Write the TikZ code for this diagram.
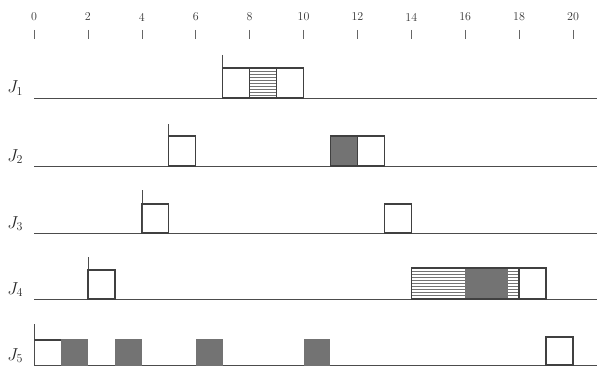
\documentclass[tikz,border=0pt]{standalone}
\begin{document}
\begin{tikzpicture}[x=26.95pt,y=-1pt,line join=miter]
\tikzset{
 jobbox/.style={draw=black!75,line width=1.3pt},
 busy/.style={fill=black!55},
 baseln/.style={draw=black!70,line width=0.8pt},
 release/.style={draw=black!70,line width=0.6pt},
 tickmark/.style={draw=black!60,line width=0.6pt},
 ticklabel/.style={font=\fontsize{12}{13}\selectfont,text=black!80,inner sep=0pt},
 joblabel/.style={font=\fontsize{17}{19}\selectfont,text=black!85,inner sep=0pt,anchor=base west},
 hatchln/.style={draw=black!55,line width=0.5pt},
}
\newcommand\hatchfill[4]{\foreach \k in {1,...,20}{\pgfmathsetmacro\yy{#3+3*\k}\ifdim\yy pt<#4pt\draw[hatchln] (#1,\yy) -- (#2,\yy);\fi}}
\useasboundingbox (-1.2616,0) rectangle (20.89,366);
% axis
\foreach \t in {0,2,...,20}{
 \node[ticklabel] (tl\t) at (\t,17) {\t};
 \draw[tickmark] (\t,30) -- (\t,39);
}
% J1
\node[joblabel] (j1) at (-1.0,93) {$J_1$};
\draw[baseln] (0,98) -- (20.89,98);
\draw[release] (7,55) -- (7,98);
\hatchfill{8}{9}{68}{98}
\draw[jobbox] (7,68) rectangle (10,98);
\draw[jobbox] (8,68) -- (8,98) (9,68) -- (9,98);
% J2
\node[joblabel] (j2) at (-1.0,161) {$J_2$};
\draw[baseln] (0,166) -- (20.89,166);
\draw[release] (5,124) -- (5,166);
\draw[jobbox] (5,136) rectangle (6,166);
\draw[jobbox,busy] (11,136) rectangle (12,166);
\draw[jobbox] (12,136) rectangle (13,166);
% J3
\node[joblabel] (j3) at (-1.0,228) {$J_3$};
\draw[baseln] (0,233) -- (20.89,233);
\draw[release] (4,190) -- (4,233);
\draw[jobbox] (4,204) rectangle (5,233);
\draw[jobbox] (13,204) rectangle (14,233);
% J4
\node[joblabel] (j4) at (-1.0,294) {$J_4$};
\draw[baseln] (0,299) -- (20.89,299);
\draw[release] (2,257) -- (2,299);
\draw[jobbox] (2,270) rectangle (3,299);
\hatchfill{14}{16}{268}{299}
\fill[black!55] (16,268) rectangle (17.6,299);
\hatchfill{17.6}{18}{268}{299}
\draw[jobbox] (14,268) rectangle (19,299);
\draw[jobbox] (18,268) -- (18,299);
% J5
\node[joblabel] (j5) at (-1.0,360) {$J_5$};
\draw[baseln] (0,365) -- (20.89,365);
\draw[release] (0,324) -- (0,365);
\draw[jobbox] (0,340) -- (1,340);
\foreach \s in {1,3,6,10}{\fill[black!55] (\s,339) rectangle ({\s+1},366);}
\draw[jobbox] (19,337) rectangle (20,365);
\end{tikzpicture}
\end{document}
